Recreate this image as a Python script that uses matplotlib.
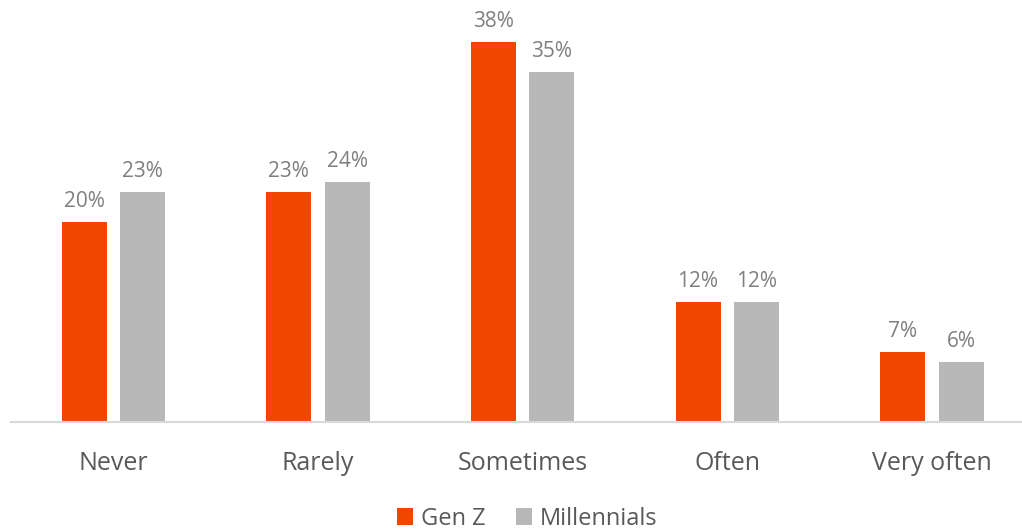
import matplotlib
matplotlib.use("Agg")
import matplotlib.pyplot as plt
import numpy as np

categories = ["Never", "Rarely", "Sometimes", "Often", "Very often"]
gen_z = [20, 23, 38, 12, 7]
millennials = [23, 24, 35, 12, 6]
series_names = ["Gen Z", "Millennials"]

plt.rcParams['font.family'] = ['Open Sans', 'DejaVu Sans']

W, H = 1022, 532
fig = plt.figure(figsize=(W / 100, H / 100), dpi=100)
ax = fig.add_axes([11 / W, 1 - 422 / H, 1 - 11 / W, 400 / H])

x = np.arange(len(categories))
bw = 0.22
off = 0.143
c1, c2 = "#F04600", "#B8B8B8"
b1 = ax.bar(x - off, gen_z, bw, color=c1, label=series_names[0])
b2 = ax.bar(x + off, millennials, bw, color=c2, label=series_names[1])

for bars, vals in ((b1, gen_z), (b2, millennials)):
    for b, v in zip(bars, vals):
        ax.annotate(f"{v}%", (b.get_x() + b.get_width() / 2, v),
                    xytext=(0, 7), textcoords="offset points",
                    ha="center", va="bottom", fontsize=15, color="#7F7F7F")

ax.set_xlim(-0.5, 4.44)
ax.set_ylim(0, 40)
ax.set_xticks(x)
ax.set_xticklabels(categories, fontsize=18, color="#595959")
ax.tick_params(axis="x", length=0, pad=21)
ax.set_yticks([])
for s in ("top", "right", "left"):
    ax.spines[s].set_visible(False)
ax.spines["bottom"].set_color("#D9D9D9")
ax.spines["bottom"].set_linewidth(1.5)

fig.legend(loc="center", bbox_to_anchor=(527 / W, 1 - 519 / H), ncol=2,
           frameon=False, fontsize=17, handlelength=0.7, handleheight=0.7,
           handletextpad=0.3, columnspacing=1.3, labelcolor="#595959")

fig.savefig("out.png", dpi=100)
